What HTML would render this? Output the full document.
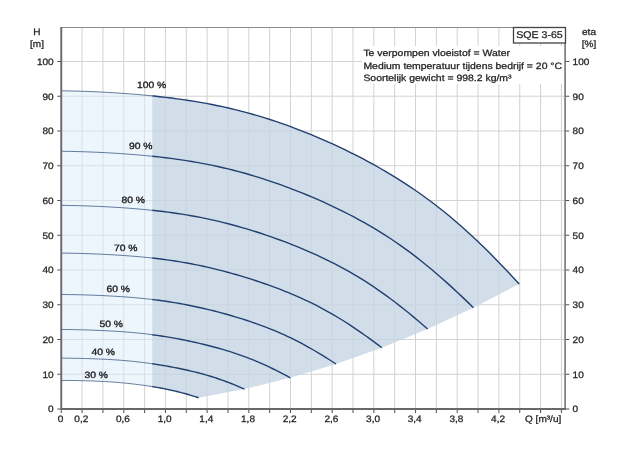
<!DOCTYPE html>
<html><head><meta charset="utf-8"><title>SQE 3-65</title>
<style>
html,body{margin:0;padding:0;background:#fff;}
body{width:624px;height:450px;position:relative;overflow:hidden;font-family:"Liberation Sans",sans-serif;}
</style></head><body>
<svg width="624" height="450" viewBox="0 0 624 450" style="position:absolute;left:0;top:0">
<defs><clipPath id="cl"><rect x="61.25" y="0" width="90.97" height="450"/></clipPath><clipPath id="cr"><rect x="152.22" y="0" width="500" height="450"/></clipPath></defs>
<path d="M82.09 27.00V409.05M102.93 27.00V409.05M123.77 27.00V409.05M144.61 27.00V409.05M165.45 27.00V409.05M186.29 27.00V409.05M207.13 27.00V409.05M227.97 27.00V409.05M248.81 27.00V409.05M269.65 27.00V409.05M290.49 27.00V409.05M311.33 27.00V409.05M332.17 27.00V409.05M353.01 27.00V409.05M373.85 27.00V409.05M394.69 27.00V409.05M415.53 27.00V409.05M436.37 27.00V409.05M457.21 27.00V409.05M478.05 27.00V409.05M498.89 27.00V409.05M519.73 27.00V409.05M540.57 27.00V409.05M561.41 27.00V409.05M61.25 374.29H565.50M61.25 339.53H565.50M61.25 304.77H565.50M61.25 270.01H565.50M61.25 235.25H565.50M61.25 200.49H565.50M61.25 165.73H565.50M61.25 130.97H565.50M61.25 96.21H565.50M61.25 61.45H565.50" stroke="#d2d2d2" stroke-width="1" fill="none"/>
<polygon points="61.25,90.80 67.05,90.88 72.84,91.00 78.64,91.16 84.44,91.34 90.23,91.56 96.03,91.81 101.83,92.09 107.63,92.40 113.42,92.74 119.22,93.11 125.02,93.52 130.81,93.96 136.61,94.43 142.41,94.94 148.20,95.48 154.00,96.06 159.80,96.69 165.60,97.35 171.39,98.06 177.19,98.82 182.99,99.62 188.78,100.48 194.58,101.40 200.38,102.38 206.17,103.42 211.97,104.52 217.77,105.69 223.56,106.93 229.36,108.24 235.16,109.63 240.96,111.08 246.75,112.61 252.55,114.22 258.35,115.90 264.14,117.66 269.94,119.50 275.74,121.41 281.53,123.39 287.33,125.45 293.13,127.58 298.92,129.79 304.72,132.06 310.52,134.40 316.32,136.82 322.11,139.30 327.91,141.85 333.71,144.48 339.50,147.18 345.30,149.95 351.10,152.79 356.89,155.71 362.69,158.72 368.49,161.81 374.29,164.98 380.08,168.25 385.88,171.61 391.68,175.07 397.47,178.63 403.27,182.30 409.07,186.09 414.86,190.00 420.66,194.04 426.46,198.21 432.25,202.52 438.05,206.97 443.85,211.57 449.65,216.31 455.44,221.21 461.24,226.25 467.04,231.43 472.83,236.76 478.63,242.23 484.43,247.84 490.22,253.57 496.02,259.43 501.82,265.40 507.62,271.48 513.41,277.65 519.21,283.91 473.41,307.69 427.62,328.96 381.82,347.73 336.03,364.00 290.23,377.77 244.43,389.03 198.64,397.79 198.64,397.79 196.90,397.22 195.16,396.67 193.42,396.12 191.68,395.58 189.94,395.06 188.20,394.54 186.46,394.04 184.73,393.54 182.99,393.06 181.25,392.60 179.51,392.14 177.77,391.70 176.03,391.28 174.29,390.86 172.55,390.46 170.81,390.07 169.07,389.70 167.33,389.34 165.60,388.98 163.86,388.64 162.12,388.31 160.38,387.99 158.64,387.68 156.90,387.38 155.16,387.08 153.42,386.80 151.68,386.52 149.94,386.25 148.20,385.99 146.47,385.73 144.73,385.48 142.99,385.24 141.25,385.00 139.51,384.77 137.77,384.55 136.03,384.33 134.29,384.12 132.55,383.92 130.81,383.72 129.07,383.53 127.34,383.34 125.60,383.16 123.86,382.99 122.12,382.83 120.38,382.67 118.64,382.52 116.90,382.37 115.16,382.23 113.42,382.10 111.68,381.98 109.94,381.86 108.21,381.75 106.47,381.64 104.73,381.54 102.99,381.45 101.25,381.36 99.51,381.28 97.77,381.20 96.03,381.13 94.29,381.06 92.55,381.00 90.81,380.94 89.08,380.88 87.34,380.83 85.60,380.78 83.86,380.73 82.12,380.69 80.38,380.65 78.64,380.62 76.90,380.58 75.16,380.55 73.42,380.52 71.68,380.50 69.95,380.48 68.21,380.46 66.47,380.44 64.73,380.43 62.99,380.41 61.25,380.41" fill="rgb(221,237,251)" fill-opacity="0.5" clip-path="url(#cl)"/>
<polygon points="61.25,90.80 67.05,90.88 72.84,91.00 78.64,91.16 84.44,91.34 90.23,91.56 96.03,91.81 101.83,92.09 107.63,92.40 113.42,92.74 119.22,93.11 125.02,93.52 130.81,93.96 136.61,94.43 142.41,94.94 148.20,95.48 154.00,96.06 159.80,96.69 165.60,97.35 171.39,98.06 177.19,98.82 182.99,99.62 188.78,100.48 194.58,101.40 200.38,102.38 206.17,103.42 211.97,104.52 217.77,105.69 223.56,106.93 229.36,108.24 235.16,109.63 240.96,111.08 246.75,112.61 252.55,114.22 258.35,115.90 264.14,117.66 269.94,119.50 275.74,121.41 281.53,123.39 287.33,125.45 293.13,127.58 298.92,129.79 304.72,132.06 310.52,134.40 316.32,136.82 322.11,139.30 327.91,141.85 333.71,144.48 339.50,147.18 345.30,149.95 351.10,152.79 356.89,155.71 362.69,158.72 368.49,161.81 374.29,164.98 380.08,168.25 385.88,171.61 391.68,175.07 397.47,178.63 403.27,182.30 409.07,186.09 414.86,190.00 420.66,194.04 426.46,198.21 432.25,202.52 438.05,206.97 443.85,211.57 449.65,216.31 455.44,221.21 461.24,226.25 467.04,231.43 472.83,236.76 478.63,242.23 484.43,247.84 490.22,253.57 496.02,259.43 501.82,265.40 507.62,271.48 513.41,277.65 519.21,283.91 473.41,307.69 427.62,328.96 381.82,347.73 336.03,364.00 290.23,377.77 244.43,389.03 198.64,397.79 198.64,397.79 196.90,397.22 195.16,396.67 193.42,396.12 191.68,395.58 189.94,395.06 188.20,394.54 186.46,394.04 184.73,393.54 182.99,393.06 181.25,392.60 179.51,392.14 177.77,391.70 176.03,391.28 174.29,390.86 172.55,390.46 170.81,390.07 169.07,389.70 167.33,389.34 165.60,388.98 163.86,388.64 162.12,388.31 160.38,387.99 158.64,387.68 156.90,387.38 155.16,387.08 153.42,386.80 151.68,386.52 149.94,386.25 148.20,385.99 146.47,385.73 144.73,385.48 142.99,385.24 141.25,385.00 139.51,384.77 137.77,384.55 136.03,384.33 134.29,384.12 132.55,383.92 130.81,383.72 129.07,383.53 127.34,383.34 125.60,383.16 123.86,382.99 122.12,382.83 120.38,382.67 118.64,382.52 116.90,382.37 115.16,382.23 113.42,382.10 111.68,381.98 109.94,381.86 108.21,381.75 106.47,381.64 104.73,381.54 102.99,381.45 101.25,381.36 99.51,381.28 97.77,381.20 96.03,381.13 94.29,381.06 92.55,381.00 90.81,380.94 89.08,380.88 87.34,380.83 85.60,380.78 83.86,380.73 82.12,380.69 80.38,380.65 78.64,380.62 76.90,380.58 75.16,380.55 73.42,380.52 71.68,380.50 69.95,380.48 68.21,380.46 66.47,380.44 64.73,380.43 62.99,380.41 61.25,380.41" fill="rgb(197,212,227)" fill-opacity="0.8" clip-path="url(#cr)"/>
<rect x="362" y="46" width="202" height="38" fill="#fff"/>
<polyline points="61.25,90.80 67.05,90.88 72.84,91.00 78.64,91.16 84.44,91.34 90.23,91.56 96.03,91.81 101.83,92.09 107.63,92.40 113.42,92.74 119.22,93.11 125.02,93.52 130.81,93.96 136.61,94.43 142.41,94.94 148.20,95.48 154.00,96.06 159.80,96.69 165.60,97.35 171.39,98.06 177.19,98.82 182.99,99.62 188.78,100.48 194.58,101.40 200.38,102.38 206.17,103.42 211.97,104.52 217.77,105.69 223.56,106.93 229.36,108.24 235.16,109.63 240.96,111.08 246.75,112.61 252.55,114.22 258.35,115.90 264.14,117.66 269.94,119.50 275.74,121.41 281.53,123.39 287.33,125.45 293.13,127.58 298.92,129.79 304.72,132.06 310.52,134.40 316.32,136.82 322.11,139.30 327.91,141.85 333.71,144.48 339.50,147.18 345.30,149.95 351.10,152.79 356.89,155.71 362.69,158.72 368.49,161.81 374.29,164.98 380.08,168.25 385.88,171.61 391.68,175.07 397.47,178.63 403.27,182.30 409.07,186.09 414.86,190.00 420.66,194.04 426.46,198.21 432.25,202.52 438.05,206.97 443.85,211.57 449.65,216.31 455.44,221.21 461.24,226.25 467.04,231.43 472.83,236.76 478.63,242.23 484.43,247.84 490.22,253.57 496.02,259.43 501.82,265.40 507.62,271.48 513.41,277.65 519.21,283.91" fill="none" stroke="#2a4877" stroke-opacity="0.8" stroke-width="0.9" stroke-linejoin="round" clip-path="url(#cl)"/>
<polyline points="61.25,90.80 67.05,90.88 72.84,91.00 78.64,91.16 84.44,91.34 90.23,91.56 96.03,91.81 101.83,92.09 107.63,92.40 113.42,92.74 119.22,93.11 125.02,93.52 130.81,93.96 136.61,94.43 142.41,94.94 148.20,95.48 154.00,96.06 159.80,96.69 165.60,97.35 171.39,98.06 177.19,98.82 182.99,99.62 188.78,100.48 194.58,101.40 200.38,102.38 206.17,103.42 211.97,104.52 217.77,105.69 223.56,106.93 229.36,108.24 235.16,109.63 240.96,111.08 246.75,112.61 252.55,114.22 258.35,115.90 264.14,117.66 269.94,119.50 275.74,121.41 281.53,123.39 287.33,125.45 293.13,127.58 298.92,129.79 304.72,132.06 310.52,134.40 316.32,136.82 322.11,139.30 327.91,141.85 333.71,144.48 339.50,147.18 345.30,149.95 351.10,152.79 356.89,155.71 362.69,158.72 368.49,161.81 374.29,164.98 380.08,168.25 385.88,171.61 391.68,175.07 397.47,178.63 403.27,182.30 409.07,186.09 414.86,190.00 420.66,194.04 426.46,198.21 432.25,202.52 438.05,206.97 443.85,211.57 449.65,216.31 455.44,221.21 461.24,226.25 467.04,231.43 472.83,236.76 478.63,242.23 484.43,247.84 490.22,253.57 496.02,259.43 501.82,265.40 507.62,271.48 513.41,277.65 519.21,283.91" fill="none" stroke="#213f70" stroke-width="1.4" stroke-linejoin="round" clip-path="url(#cr)"/>
<polyline points="61.25,151.27 66.47,151.33 71.68,151.43 76.90,151.56 82.12,151.71 87.34,151.88 92.55,152.08 97.77,152.31 102.99,152.56 108.21,152.84 113.42,153.14 118.64,153.47 123.86,153.83 129.07,154.21 134.29,154.62 139.51,155.06 144.73,155.53 149.94,156.03 155.16,156.57 160.38,157.15 165.60,157.76 170.81,158.41 176.03,159.11 181.25,159.85 186.46,160.65 191.68,161.49 196.90,162.38 202.12,163.33 207.33,164.33 212.55,165.40 217.77,166.52 222.98,167.70 228.20,168.94 233.42,170.24 238.64,171.60 243.85,173.03 249.07,174.51 254.29,176.06 259.51,177.67 264.72,179.33 269.94,181.06 275.16,182.85 280.37,184.69 285.59,186.59 290.81,188.54 296.03,190.55 301.24,192.62 306.46,194.75 311.68,196.93 316.90,199.18 322.11,201.48 327.33,203.85 332.55,206.28 337.76,208.78 342.98,211.35 348.20,214.00 353.42,216.72 358.63,219.52 363.85,222.41 369.07,225.39 374.29,228.45 379.50,231.62 384.72,234.89 389.94,238.27 395.15,241.76 400.37,245.37 405.59,249.09 410.81,252.93 416.02,256.90 421.24,260.98 426.46,265.18 431.68,269.50 436.89,273.93 442.11,278.47 447.33,283.11 452.54,287.86 457.76,292.70 462.98,297.62 468.20,302.62 473.41,307.69" fill="none" stroke="#2a4877" stroke-opacity="0.8" stroke-width="0.9" stroke-linejoin="round" clip-path="url(#cl)"/>
<polyline points="61.25,151.27 66.47,151.33 71.68,151.43 76.90,151.56 82.12,151.71 87.34,151.88 92.55,152.08 97.77,152.31 102.99,152.56 108.21,152.84 113.42,153.14 118.64,153.47 123.86,153.83 129.07,154.21 134.29,154.62 139.51,155.06 144.73,155.53 149.94,156.03 155.16,156.57 160.38,157.15 165.60,157.76 170.81,158.41 176.03,159.11 181.25,159.85 186.46,160.65 191.68,161.49 196.90,162.38 202.12,163.33 207.33,164.33 212.55,165.40 217.77,166.52 222.98,167.70 228.20,168.94 233.42,170.24 238.64,171.60 243.85,173.03 249.07,174.51 254.29,176.06 259.51,177.67 264.72,179.33 269.94,181.06 275.16,182.85 280.37,184.69 285.59,186.59 290.81,188.54 296.03,190.55 301.24,192.62 306.46,194.75 311.68,196.93 316.90,199.18 322.11,201.48 327.33,203.85 332.55,206.28 337.76,208.78 342.98,211.35 348.20,214.00 353.42,216.72 358.63,219.52 363.85,222.41 369.07,225.39 374.29,228.45 379.50,231.62 384.72,234.89 389.94,238.27 395.15,241.76 400.37,245.37 405.59,249.09 410.81,252.93 416.02,256.90 421.24,260.98 426.46,265.18 431.68,269.50 436.89,273.93 442.11,278.47 447.33,283.11 452.54,287.86 457.76,292.70 462.98,297.62 468.20,302.62 473.41,307.69" fill="none" stroke="#213f70" stroke-width="1.4" stroke-linejoin="round" clip-path="url(#cr)"/>
<polyline points="61.25,205.37 65.89,205.42 70.53,205.50 75.16,205.60 79.80,205.72 84.44,205.86 89.08,206.02 93.71,206.19 98.35,206.39 102.99,206.61 107.63,206.85 112.26,207.11 116.90,207.39 121.54,207.69 126.18,208.02 130.81,208.37 135.45,208.74 140.09,209.14 144.73,209.56 149.36,210.02 154.00,210.50 158.64,211.02 163.28,211.57 167.91,212.15 172.55,212.78 177.19,213.44 181.83,214.15 186.46,214.90 191.10,215.69 195.74,216.53 200.38,217.42 205.01,218.35 209.65,219.33 214.29,220.36 218.93,221.44 223.56,222.56 228.20,223.74 232.84,224.96 237.48,226.23 242.11,227.55 246.75,228.91 251.39,230.32 256.03,231.78 260.67,233.28 265.30,234.82 269.94,236.41 274.58,238.04 279.22,239.72 283.85,241.45 288.49,243.22 293.13,245.04 297.77,246.92 302.40,248.84 307.04,250.81 311.68,252.85 316.32,254.94 320.95,257.09 325.59,259.30 330.23,261.58 334.87,263.93 339.50,266.36 344.14,268.86 348.78,271.44 353.42,274.11 358.05,276.87 362.69,279.72 367.33,282.66 371.97,285.70 376.60,288.83 381.24,292.06 385.88,295.37 390.52,298.79 395.15,302.29 399.79,305.87 404.43,309.55 409.07,313.29 413.70,317.12 418.34,321.01 422.98,324.96 427.62,328.96" fill="none" stroke="#2a4877" stroke-opacity="0.8" stroke-width="0.9" stroke-linejoin="round" clip-path="url(#cl)"/>
<polyline points="61.25,205.37 65.89,205.42 70.53,205.50 75.16,205.60 79.80,205.72 84.44,205.86 89.08,206.02 93.71,206.19 98.35,206.39 102.99,206.61 107.63,206.85 112.26,207.11 116.90,207.39 121.54,207.69 126.18,208.02 130.81,208.37 135.45,208.74 140.09,209.14 144.73,209.56 149.36,210.02 154.00,210.50 158.64,211.02 163.28,211.57 167.91,212.15 172.55,212.78 177.19,213.44 181.83,214.15 186.46,214.90 191.10,215.69 195.74,216.53 200.38,217.42 205.01,218.35 209.65,219.33 214.29,220.36 218.93,221.44 223.56,222.56 228.20,223.74 232.84,224.96 237.48,226.23 242.11,227.55 246.75,228.91 251.39,230.32 256.03,231.78 260.67,233.28 265.30,234.82 269.94,236.41 274.58,238.04 279.22,239.72 283.85,241.45 288.49,243.22 293.13,245.04 297.77,246.92 302.40,248.84 307.04,250.81 311.68,252.85 316.32,254.94 320.95,257.09 325.59,259.30 330.23,261.58 334.87,263.93 339.50,266.36 344.14,268.86 348.78,271.44 353.42,274.11 358.05,276.87 362.69,279.72 367.33,282.66 371.97,285.70 376.60,288.83 381.24,292.06 385.88,295.37 390.52,298.79 395.15,302.29 399.79,305.87 404.43,309.55 409.07,313.29 413.70,317.12 418.34,321.01 422.98,324.96 427.62,328.96" fill="none" stroke="#213f70" stroke-width="1.4" stroke-linejoin="round" clip-path="url(#cr)"/>
<polyline points="61.25,253.11 65.31,253.15 69.37,253.21 73.42,253.28 77.48,253.37 81.54,253.48 85.60,253.60 89.66,253.74 93.71,253.89 97.77,254.06 101.83,254.24 105.89,254.44 109.94,254.66 114.00,254.89 118.06,255.13 122.12,255.40 126.18,255.69 130.23,255.99 134.29,256.32 138.35,256.66 142.41,257.04 146.47,257.43 150.52,257.85 154.58,258.30 158.64,258.78 162.70,259.29 166.75,259.83 170.81,260.40 174.87,261.01 178.93,261.65 182.99,262.33 187.04,263.05 191.10,263.80 195.16,264.58 199.22,265.41 203.28,266.27 207.33,267.17 211.39,268.11 215.45,269.08 219.51,270.09 223.56,271.13 227.62,272.21 231.68,273.33 235.74,274.47 239.80,275.66 243.85,276.87 247.91,278.12 251.97,279.41 256.03,280.73 260.09,282.09 264.14,283.48 268.20,284.92 272.26,286.39 276.32,287.90 280.37,289.46 284.43,291.06 288.49,292.70 292.55,294.40 296.61,296.14 300.66,297.94 304.72,299.80 308.78,301.72 312.84,303.69 316.90,305.74 320.95,307.85 325.01,310.03 329.07,312.28 333.13,314.61 337.18,317.01 341.24,319.48 345.30,322.02 349.36,324.63 353.42,327.31 357.47,330.06 361.53,332.87 365.59,335.74 369.65,338.66 373.71,341.64 377.76,344.67 381.82,347.73" fill="none" stroke="#2a4877" stroke-opacity="0.8" stroke-width="0.9" stroke-linejoin="round" clip-path="url(#cl)"/>
<polyline points="61.25,253.11 65.31,253.15 69.37,253.21 73.42,253.28 77.48,253.37 81.54,253.48 85.60,253.60 89.66,253.74 93.71,253.89 97.77,254.06 101.83,254.24 105.89,254.44 109.94,254.66 114.00,254.89 118.06,255.13 122.12,255.40 126.18,255.69 130.23,255.99 134.29,256.32 138.35,256.66 142.41,257.04 146.47,257.43 150.52,257.85 154.58,258.30 158.64,258.78 162.70,259.29 166.75,259.83 170.81,260.40 174.87,261.01 178.93,261.65 182.99,262.33 187.04,263.05 191.10,263.80 195.16,264.58 199.22,265.41 203.28,266.27 207.33,267.17 211.39,268.11 215.45,269.08 219.51,270.09 223.56,271.13 227.62,272.21 231.68,273.33 235.74,274.47 239.80,275.66 243.85,276.87 247.91,278.12 251.97,279.41 256.03,280.73 260.09,282.09 264.14,283.48 268.20,284.92 272.26,286.39 276.32,287.90 280.37,289.46 284.43,291.06 288.49,292.70 292.55,294.40 296.61,296.14 300.66,297.94 304.72,299.80 308.78,301.72 312.84,303.69 316.90,305.74 320.95,307.85 325.01,310.03 329.07,312.28 333.13,314.61 337.18,317.01 341.24,319.48 345.30,322.02 349.36,324.63 353.42,327.31 357.47,330.06 361.53,332.87 365.59,335.74 369.65,338.66 373.71,341.64 377.76,344.67 381.82,347.73" fill="none" stroke="#213f70" stroke-width="1.4" stroke-linejoin="round" clip-path="url(#cr)"/>
<polyline points="61.25,294.48 64.73,294.51 68.21,294.55 71.68,294.61 75.16,294.68 78.64,294.75 82.12,294.84 85.60,294.94 89.08,295.06 92.55,295.18 96.03,295.31 99.51,295.46 102.99,295.62 106.47,295.79 109.94,295.97 113.42,296.17 116.90,296.37 120.38,296.60 123.86,296.84 127.34,297.09 130.81,297.37 134.29,297.66 137.77,297.97 141.25,298.30 144.73,298.65 148.20,299.02 151.68,299.42 155.16,299.84 158.64,300.29 162.12,300.76 165.60,301.26 169.07,301.78 172.55,302.33 176.03,302.91 179.51,303.52 182.99,304.15 186.46,304.81 189.94,305.50 193.42,306.21 196.90,306.95 200.38,307.72 203.85,308.52 207.33,309.33 210.81,310.18 214.29,311.05 217.77,311.94 221.25,312.86 224.72,313.80 228.20,314.78 231.68,315.77 235.16,316.80 238.64,317.85 242.11,318.93 245.59,320.04 249.07,321.19 252.55,322.36 256.03,323.57 259.51,324.82 262.98,326.10 266.46,327.42 269.94,328.79 273.42,330.19 276.90,331.65 280.37,333.15 283.85,334.70 287.33,336.30 290.81,337.96 294.29,339.66 297.77,341.43 301.24,343.24 304.72,345.11 308.20,347.03 311.68,349.00 315.16,351.01 318.63,353.08 322.11,355.19 325.59,357.34 329.07,359.53 332.55,361.75 336.03,364.00" fill="none" stroke="#2a4877" stroke-opacity="0.8" stroke-width="0.9" stroke-linejoin="round" clip-path="url(#cl)"/>
<polyline points="61.25,294.48 64.73,294.51 68.21,294.55 71.68,294.61 75.16,294.68 78.64,294.75 82.12,294.84 85.60,294.94 89.08,295.06 92.55,295.18 96.03,295.31 99.51,295.46 102.99,295.62 106.47,295.79 109.94,295.97 113.42,296.17 116.90,296.37 120.38,296.60 123.86,296.84 127.34,297.09 130.81,297.37 134.29,297.66 137.77,297.97 141.25,298.30 144.73,298.65 148.20,299.02 151.68,299.42 155.16,299.84 158.64,300.29 162.12,300.76 165.60,301.26 169.07,301.78 172.55,302.33 176.03,302.91 179.51,303.52 182.99,304.15 186.46,304.81 189.94,305.50 193.42,306.21 196.90,306.95 200.38,307.72 203.85,308.52 207.33,309.33 210.81,310.18 214.29,311.05 217.77,311.94 221.25,312.86 224.72,313.80 228.20,314.78 231.68,315.77 235.16,316.80 238.64,317.85 242.11,318.93 245.59,320.04 249.07,321.19 252.55,322.36 256.03,323.57 259.51,324.82 262.98,326.10 266.46,327.42 269.94,328.79 273.42,330.19 276.90,331.65 280.37,333.15 283.85,334.70 287.33,336.30 290.81,337.96 294.29,339.66 297.77,341.43 301.24,343.24 304.72,345.11 308.20,347.03 311.68,349.00 315.16,351.01 318.63,353.08 322.11,355.19 325.59,357.34 329.07,359.53 332.55,361.75 336.03,364.00" fill="none" stroke="#213f70" stroke-width="1.4" stroke-linejoin="round" clip-path="url(#cr)"/>
<polyline points="61.25,329.49 64.15,329.51 67.05,329.54 69.95,329.58 72.84,329.62 75.74,329.68 78.64,329.74 81.54,329.81 84.44,329.89 87.34,329.97 90.23,330.07 93.13,330.17 96.03,330.28 98.93,330.40 101.83,330.52 104.73,330.66 107.63,330.80 110.52,330.96 113.42,331.13 116.32,331.30 119.22,331.49 122.12,331.69 125.02,331.91 127.91,332.14 130.81,332.38 133.71,332.64 136.61,332.92 139.51,333.21 142.41,333.52 145.31,333.85 148.20,334.19 151.10,334.56 154.00,334.94 156.90,335.34 159.80,335.76 162.70,336.20 165.60,336.66 168.49,337.14 171.39,337.64 174.29,338.15 177.19,338.68 180.09,339.23 182.99,339.80 185.88,340.39 188.78,340.99 191.68,341.61 194.58,342.25 197.48,342.91 200.38,343.58 203.28,344.27 206.17,344.99 209.07,345.72 211.97,346.47 214.87,347.24 217.77,348.03 220.67,348.85 223.56,349.69 226.46,350.55 229.36,351.45 232.26,352.36 235.16,353.31 238.06,354.29 240.96,355.30 243.85,356.34 246.75,357.42 249.65,358.53 252.55,359.68 255.45,360.87 258.35,362.09 261.24,363.35 264.14,364.65 267.04,365.98 269.94,367.35 272.84,368.75 275.74,370.18 278.64,371.65 281.53,373.14 284.43,374.66 287.33,376.20 290.23,377.77" fill="none" stroke="#2a4877" stroke-opacity="0.8" stroke-width="0.9" stroke-linejoin="round" clip-path="url(#cl)"/>
<polyline points="61.25,329.49 64.15,329.51 67.05,329.54 69.95,329.58 72.84,329.62 75.74,329.68 78.64,329.74 81.54,329.81 84.44,329.89 87.34,329.97 90.23,330.07 93.13,330.17 96.03,330.28 98.93,330.40 101.83,330.52 104.73,330.66 107.63,330.80 110.52,330.96 113.42,331.13 116.32,331.30 119.22,331.49 122.12,331.69 125.02,331.91 127.91,332.14 130.81,332.38 133.71,332.64 136.61,332.92 139.51,333.21 142.41,333.52 145.31,333.85 148.20,334.19 151.10,334.56 154.00,334.94 156.90,335.34 159.80,335.76 162.70,336.20 165.60,336.66 168.49,337.14 171.39,337.64 174.29,338.15 177.19,338.68 180.09,339.23 182.99,339.80 185.88,340.39 188.78,340.99 191.68,341.61 194.58,342.25 197.48,342.91 200.38,343.58 203.28,344.27 206.17,344.99 209.07,345.72 211.97,346.47 214.87,347.24 217.77,348.03 220.67,348.85 223.56,349.69 226.46,350.55 229.36,351.45 232.26,352.36 235.16,353.31 238.06,354.29 240.96,355.30 243.85,356.34 246.75,357.42 249.65,358.53 252.55,359.68 255.45,360.87 258.35,362.09 261.24,363.35 264.14,364.65 267.04,365.98 269.94,367.35 272.84,368.75 275.74,370.18 278.64,371.65 281.53,373.14 284.43,374.66 287.33,376.20 290.23,377.77" fill="none" stroke="#213f70" stroke-width="1.4" stroke-linejoin="round" clip-path="url(#cr)"/>
<polyline points="61.25,358.13 63.57,358.14 65.89,358.16 68.21,358.19 70.53,358.22 72.84,358.25 75.16,358.29 77.48,358.34 79.80,358.39 82.12,358.44 84.44,358.50 86.76,358.57 89.08,358.64 91.39,358.71 93.71,358.79 96.03,358.88 98.35,358.97 100.67,359.07 102.99,359.18 105.31,359.29 107.63,359.41 109.94,359.54 112.26,359.68 114.58,359.83 116.90,359.98 119.22,360.15 121.54,360.33 123.86,360.51 126.18,360.71 128.49,360.92 130.81,361.14 133.13,361.38 135.45,361.62 137.77,361.88 140.09,362.15 142.41,362.43 144.73,362.72 147.04,363.03 149.36,363.34 151.68,363.67 154.00,364.02 156.32,364.37 158.64,364.73 160.96,365.11 163.28,365.49 165.60,365.89 167.91,366.30 170.23,366.72 172.55,367.15 174.87,367.59 177.19,368.05 179.51,368.52 181.83,369.00 184.15,369.49 186.46,370.00 188.78,370.52 191.10,371.06 193.42,371.61 195.74,372.18 198.06,372.77 200.38,373.38 202.70,374.00 205.01,374.65 207.33,375.32 209.65,376.01 211.97,376.72 214.29,377.45 216.61,378.21 218.93,378.99 221.25,379.80 223.56,380.63 225.88,381.48 228.20,382.36 230.52,383.26 232.84,384.17 235.16,385.11 237.48,386.07 239.80,387.04 242.11,388.03 244.43,389.03" fill="none" stroke="#2a4877" stroke-opacity="0.8" stroke-width="0.9" stroke-linejoin="round" clip-path="url(#cl)"/>
<polyline points="61.25,358.13 63.57,358.14 65.89,358.16 68.21,358.19 70.53,358.22 72.84,358.25 75.16,358.29 77.48,358.34 79.80,358.39 82.12,358.44 84.44,358.50 86.76,358.57 89.08,358.64 91.39,358.71 93.71,358.79 96.03,358.88 98.35,358.97 100.67,359.07 102.99,359.18 105.31,359.29 107.63,359.41 109.94,359.54 112.26,359.68 114.58,359.83 116.90,359.98 119.22,360.15 121.54,360.33 123.86,360.51 126.18,360.71 128.49,360.92 130.81,361.14 133.13,361.38 135.45,361.62 137.77,361.88 140.09,362.15 142.41,362.43 144.73,362.72 147.04,363.03 149.36,363.34 151.68,363.67 154.00,364.02 156.32,364.37 158.64,364.73 160.96,365.11 163.28,365.49 165.60,365.89 167.91,366.30 170.23,366.72 172.55,367.15 174.87,367.59 177.19,368.05 179.51,368.52 181.83,369.00 184.15,369.49 186.46,370.00 188.78,370.52 191.10,371.06 193.42,371.61 195.74,372.18 198.06,372.77 200.38,373.38 202.70,374.00 205.01,374.65 207.33,375.32 209.65,376.01 211.97,376.72 214.29,377.45 216.61,378.21 218.93,378.99 221.25,379.80 223.56,380.63 225.88,381.48 228.20,382.36 230.52,383.26 232.84,384.17 235.16,385.11 237.48,386.07 239.80,387.04 242.11,388.03 244.43,389.03" fill="none" stroke="#213f70" stroke-width="1.4" stroke-linejoin="round" clip-path="url(#cr)"/>
<polyline points="61.25,380.41 62.99,380.41 64.73,380.43 66.47,380.44 68.21,380.46 69.95,380.48 71.68,380.50 73.42,380.52 75.16,380.55 76.90,380.58 78.64,380.62 80.38,380.65 82.12,380.69 83.86,380.73 85.60,380.78 87.34,380.83 89.08,380.88 90.81,380.94 92.55,381.00 94.29,381.06 96.03,381.13 97.77,381.20 99.51,381.28 101.25,381.36 102.99,381.45 104.73,381.54 106.47,381.64 108.21,381.75 109.94,381.86 111.68,381.98 113.42,382.10 115.16,382.23 116.90,382.37 118.64,382.52 120.38,382.67 122.12,382.83 123.86,382.99 125.60,383.16 127.34,383.34 129.07,383.53 130.81,383.72 132.55,383.92 134.29,384.12 136.03,384.33 137.77,384.55 139.51,384.77 141.25,385.00 142.99,385.24 144.73,385.48 146.47,385.73 148.20,385.99 149.94,386.25 151.68,386.52 153.42,386.80 155.16,387.08 156.90,387.38 158.64,387.68 160.38,387.99 162.12,388.31 163.86,388.64 165.60,388.98 167.33,389.34 169.07,389.70 170.81,390.07 172.55,390.46 174.29,390.86 176.03,391.28 177.77,391.70 179.51,392.14 181.25,392.60 182.99,393.06 184.73,393.54 186.46,394.04 188.20,394.54 189.94,395.06 191.68,395.58 193.42,396.12 195.16,396.67 196.90,397.22 198.64,397.79" fill="none" stroke="#2a4877" stroke-opacity="0.8" stroke-width="0.9" stroke-linejoin="round" clip-path="url(#cl)"/>
<polyline points="61.25,380.41 62.99,380.41 64.73,380.43 66.47,380.44 68.21,380.46 69.95,380.48 71.68,380.50 73.42,380.52 75.16,380.55 76.90,380.58 78.64,380.62 80.38,380.65 82.12,380.69 83.86,380.73 85.60,380.78 87.34,380.83 89.08,380.88 90.81,380.94 92.55,381.00 94.29,381.06 96.03,381.13 97.77,381.20 99.51,381.28 101.25,381.36 102.99,381.45 104.73,381.54 106.47,381.64 108.21,381.75 109.94,381.86 111.68,381.98 113.42,382.10 115.16,382.23 116.90,382.37 118.64,382.52 120.38,382.67 122.12,382.83 123.86,382.99 125.60,383.16 127.34,383.34 129.07,383.53 130.81,383.72 132.55,383.92 134.29,384.12 136.03,384.33 137.77,384.55 139.51,384.77 141.25,385.00 142.99,385.24 144.73,385.48 146.47,385.73 148.20,385.99 149.94,386.25 151.68,386.52 153.42,386.80 155.16,387.08 156.90,387.38 158.64,387.68 160.38,387.99 162.12,388.31 163.86,388.64 165.60,388.98 167.33,389.34 169.07,389.70 170.81,390.07 172.55,390.46 174.29,390.86 176.03,391.28 177.77,391.70 179.51,392.14 181.25,392.60 182.99,393.06 184.73,393.54 186.46,394.04 188.20,394.54 189.94,395.06 191.68,395.58 193.42,396.12 195.16,396.67 196.90,397.22 198.64,397.79" fill="none" stroke="#213f70" stroke-width="1.4" stroke-linejoin="round" clip-path="url(#cr)"/>
<path d="M61.25 27.50H565.50" stroke="#8a8a8a" stroke-width="1" fill="none"/>
<path d="M61.25 409.05h-4M565.50 409.05h3.8M61.25 374.29h-4M565.50 374.29h3.8M61.25 339.53h-4M565.50 339.53h3.8M61.25 304.77h-4M565.50 304.77h3.8M61.25 270.01h-4M565.50 270.01h3.8M61.25 235.25h-4M565.50 235.25h3.8M61.25 200.49h-4M565.50 200.49h3.8M61.25 165.73h-4M565.50 165.73h3.8M61.25 130.97h-4M565.50 130.97h3.8M61.25 96.21h-4M565.50 96.21h3.8M61.25 61.45h-4M565.50 61.45h3.8M61.25 409.05v4M82.09 409.05v4M102.93 409.05v4M123.77 409.05v4M144.61 409.05v4M165.45 409.05v4M186.29 409.05v4M207.13 409.05v4M227.97 409.05v4M248.81 409.05v4M269.65 409.05v4M290.49 409.05v4M311.33 409.05v4M332.17 409.05v4M353.01 409.05v4M373.85 409.05v4M394.69 409.05v4M415.53 409.05v4M436.37 409.05v4M457.21 409.05v4M478.05 409.05v4M498.89 409.05v4M519.73 409.05v4M540.57 409.05v4M561.41 409.05v4" stroke="#555" stroke-width="1.05" fill="none"/>
<path d="M565.10 27.00V409.95" stroke="#747474" stroke-width="1.6" fill="none"/>
<path d="M61.25 27.00V409.05H565.90" stroke="#686868" stroke-width="1.9" fill="none" stroke-linejoin="miter"/>
<rect x="513.5" y="27.5" width="52" height="15.5" fill="#fff" stroke="#444" stroke-width="1.3"/>
</svg>
<svg width="624" height="450" viewBox="0 0 624 450" style="position:absolute;left:0;top:0;font-family:'Liberation Sans',sans-serif;text-rendering:geometricPrecision;will-change:transform" fill="#262626" stroke="#262626" stroke-width="0.28">
<text transform="translate(53.70 412.45) scale(1.080 1)" font-size="9.30" text-anchor="end">0</text>
<text transform="translate(572.60 412.45) scale(1.080 1)" font-size="9.30" text-anchor="start">0</text>
<text transform="translate(53.70 377.69) scale(1.080 1)" font-size="9.30" text-anchor="end">10</text>
<text transform="translate(572.60 377.69) scale(1.080 1)" font-size="9.30" text-anchor="start">10</text>
<text transform="translate(53.70 342.93) scale(1.080 1)" font-size="9.30" text-anchor="end">20</text>
<text transform="translate(572.60 342.93) scale(1.080 1)" font-size="9.30" text-anchor="start">20</text>
<text transform="translate(53.70 308.17) scale(1.080 1)" font-size="9.30" text-anchor="end">30</text>
<text transform="translate(572.60 308.17) scale(1.080 1)" font-size="9.30" text-anchor="start">30</text>
<text transform="translate(53.70 273.41) scale(1.080 1)" font-size="9.30" text-anchor="end">40</text>
<text transform="translate(572.60 273.41) scale(1.080 1)" font-size="9.30" text-anchor="start">40</text>
<text transform="translate(53.70 238.65) scale(1.080 1)" font-size="9.30" text-anchor="end">50</text>
<text transform="translate(572.60 238.65) scale(1.080 1)" font-size="9.30" text-anchor="start">50</text>
<text transform="translate(53.70 203.89) scale(1.080 1)" font-size="9.30" text-anchor="end">60</text>
<text transform="translate(572.60 203.89) scale(1.080 1)" font-size="9.30" text-anchor="start">60</text>
<text transform="translate(53.70 169.13) scale(1.080 1)" font-size="9.30" text-anchor="end">70</text>
<text transform="translate(572.60 169.13) scale(1.080 1)" font-size="9.30" text-anchor="start">70</text>
<text transform="translate(53.70 134.37) scale(1.080 1)" font-size="9.30" text-anchor="end">80</text>
<text transform="translate(572.60 134.37) scale(1.080 1)" font-size="9.30" text-anchor="start">80</text>
<text transform="translate(53.70 99.61) scale(1.080 1)" font-size="9.30" text-anchor="end">90</text>
<text transform="translate(572.60 99.61) scale(1.080 1)" font-size="9.30" text-anchor="start">90</text>
<text transform="translate(53.70 64.85) scale(1.080 1)" font-size="9.30" text-anchor="end">100</text>
<text transform="translate(572.60 64.85) scale(1.080 1)" font-size="9.30" text-anchor="start">100</text>
<text transform="translate(36.80 35.00) scale(1.080 1)" font-size="9.30" text-anchor="middle">H</text>
<text transform="translate(37.00 47.00) scale(1.080 1)" font-size="9.30" text-anchor="middle">[m]</text>
<text transform="translate(589.00 35.00) scale(1.080 1)" font-size="9.30" text-anchor="middle">eta</text>
<text transform="translate(589.00 47.00) scale(1.080 1)" font-size="9.30" text-anchor="middle">[%]</text>
<text transform="translate(60.50 422.20) scale(1.080 1)" font-size="9.30" text-anchor="middle">0</text>
<text transform="translate(81.29 422.20) scale(1.080 1)" font-size="9.30" text-anchor="middle">0,2</text>
<text transform="translate(122.97 422.20) scale(1.080 1)" font-size="9.30" text-anchor="middle">0,6</text>
<text transform="translate(164.65 422.20) scale(1.080 1)" font-size="9.30" text-anchor="middle">1,0</text>
<text transform="translate(206.33 422.20) scale(1.080 1)" font-size="9.30" text-anchor="middle">1,4</text>
<text transform="translate(248.01 422.20) scale(1.080 1)" font-size="9.30" text-anchor="middle">1,8</text>
<text transform="translate(289.69 422.20) scale(1.080 1)" font-size="9.30" text-anchor="middle">2,2</text>
<text transform="translate(331.37 422.20) scale(1.080 1)" font-size="9.30" text-anchor="middle">2,6</text>
<text transform="translate(373.05 422.20) scale(1.080 1)" font-size="9.30" text-anchor="middle">3,0</text>
<text transform="translate(414.73 422.20) scale(1.080 1)" font-size="9.30" text-anchor="middle">3,4</text>
<text transform="translate(456.41 422.20) scale(1.080 1)" font-size="9.30" text-anchor="middle">3,8</text>
<text transform="translate(498.09 422.20) scale(1.080 1)" font-size="9.30" text-anchor="middle">4,2</text>
<text transform="translate(525.00 422.20) scale(1.080 1)" font-size="9.30" text-anchor="start">Q [m³/u]</text>
<text transform="translate(137.00 88.00) scale(1.125 1)" font-size="9.20" text-anchor="start" fill="#1c1c1c" stroke="#1c1c1c" stroke-width="0.34">100 %</text>
<text transform="translate(129.00 149.00) scale(1.125 1)" font-size="9.20" text-anchor="start" fill="#1c1c1c" stroke="#1c1c1c" stroke-width="0.34">90 %</text>
<text transform="translate(121.50 203.00) scale(1.125 1)" font-size="9.20" text-anchor="start" fill="#1c1c1c" stroke="#1c1c1c" stroke-width="0.34">80 %</text>
<text transform="translate(114.00 251.00) scale(1.125 1)" font-size="9.20" text-anchor="start" fill="#1c1c1c" stroke="#1c1c1c" stroke-width="0.34">70 %</text>
<text transform="translate(106.50 292.00) scale(1.125 1)" font-size="9.20" text-anchor="start" fill="#1c1c1c" stroke="#1c1c1c" stroke-width="0.34">60 %</text>
<text transform="translate(99.50 327.00) scale(1.125 1)" font-size="9.20" text-anchor="start" fill="#1c1c1c" stroke="#1c1c1c" stroke-width="0.34">50 %</text>
<text transform="translate(91.50 355.00) scale(1.125 1)" font-size="9.20" text-anchor="start" fill="#1c1c1c" stroke="#1c1c1c" stroke-width="0.34">40 %</text>
<text transform="translate(84.50 378.00) scale(1.125 1)" font-size="9.20" text-anchor="start" fill="#1c1c1c" stroke="#1c1c1c" stroke-width="0.34">30 %</text>
<text transform="translate(363.40 56.00) scale(1.135 1)" font-size="9.20" text-anchor="start">Te verpompen vloeistof = Water</text>
<text transform="translate(363.40 69.00) scale(1.135 1)" font-size="9.20" text-anchor="start">Medium temperatuur tijdens bedrijf = 20 °C</text>
<text transform="translate(363.40 81.00) scale(1.135 1)" font-size="9.20" text-anchor="start">Soortelijk gewicht = 998.2 kg/m³</text>
<text transform="translate(539.50 38.20) scale(1.080 1)" font-size="9.80" text-anchor="middle">SQE 3-65</text>
</svg>
</body></html>
